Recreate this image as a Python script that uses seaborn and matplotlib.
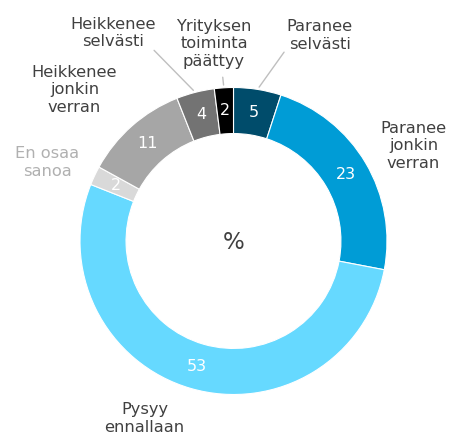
import numpy as np
import matplotlib
matplotlib.use("Agg")
import matplotlib.pyplot as plt
import seaborn as sns

# data (clockwise from 12 o'clock)
categories = ["Paranee\nselvästi", "Paranee\njonkin\nverran", "Pysyy\nennallaan",
              "En osaa\nsanoa", "Heikkenee\njonkin\nverran", "Heikkenee\nselvästi",
              "Yrityksen\ntoiminta\npäättyy"]
values = [5, 23, 53, 2, 11, 4, 2]
colors = ["#004c6b", "#009cd6", "#66d9ff", "#d9d9d9", "#a6a6a6", "#737373", "#000000"]

# label placement (data coords around a unit-radius ring) and leader-line ends
label_pos = [(0.563, 1.34), (1.173, 0.62), (-0.58, -1.155), (-1.212, 0.51),
             (-1.036, 0.985), (-0.785, 1.355), (-0.127, 1.285)]
leader_end = {0: (0.34, 1.245), 5: (-0.53, 1.255), 6: (-0.072, 1.085)}
label_colors = ["#404040"] * 7
label_colors[3] = "#b0b0b0"

sns.set_style("white")
plt.rcParams["font.family"] = ["DejaVu Sans"]

fig = plt.figure(figsize=(4.5, 4.38), dpi=100)
ax = fig.add_axes([80 / 450, (438 - 241 - 153.5) / 438, 307 / 450, 307 / 438])

wedges, _, autotexts = ax.pie(
    values, colors=colors, startangle=90, counterclock=False, radius=1,
    autopct=lambda p: f"{p:.0f}", pctdistance=0.85,
    wedgeprops=dict(width=0.3, edgecolor="white", linewidth=0.8),
    textprops=dict(color="white", fontsize=11.5),
)

ax.set_xlim(-1, 1)
ax.set_ylim(-1, 1)
ax.set_aspect("equal")
ax.axis("off")

ax.text(0, -0.01, "%", ha="center", va="center", fontsize=16.5, color="#404040")

cum = np.cumsum([0] + values[:-1])
for i, lab in enumerate(categories):
    x, y = label_pos[i]
    ax.text(x, y, lab, ha="center", va="center", fontsize=11.7, color=label_colors[i],
            linespacing=1.22, clip_on=False)
    if i in leader_end:
        mid = cum[i] + values[i] / 2
        ang = np.deg2rad(90 - mid / sum(values) * 360)
        ax.annotate("", xy=(np.cos(ang), np.sin(ang)), xytext=leader_end[i],
                    arrowprops=dict(arrowstyle="-", color="#bfbfbf", lw=1),
                    annotation_clip=False)

fig.savefig("out.png", dpi=100)
